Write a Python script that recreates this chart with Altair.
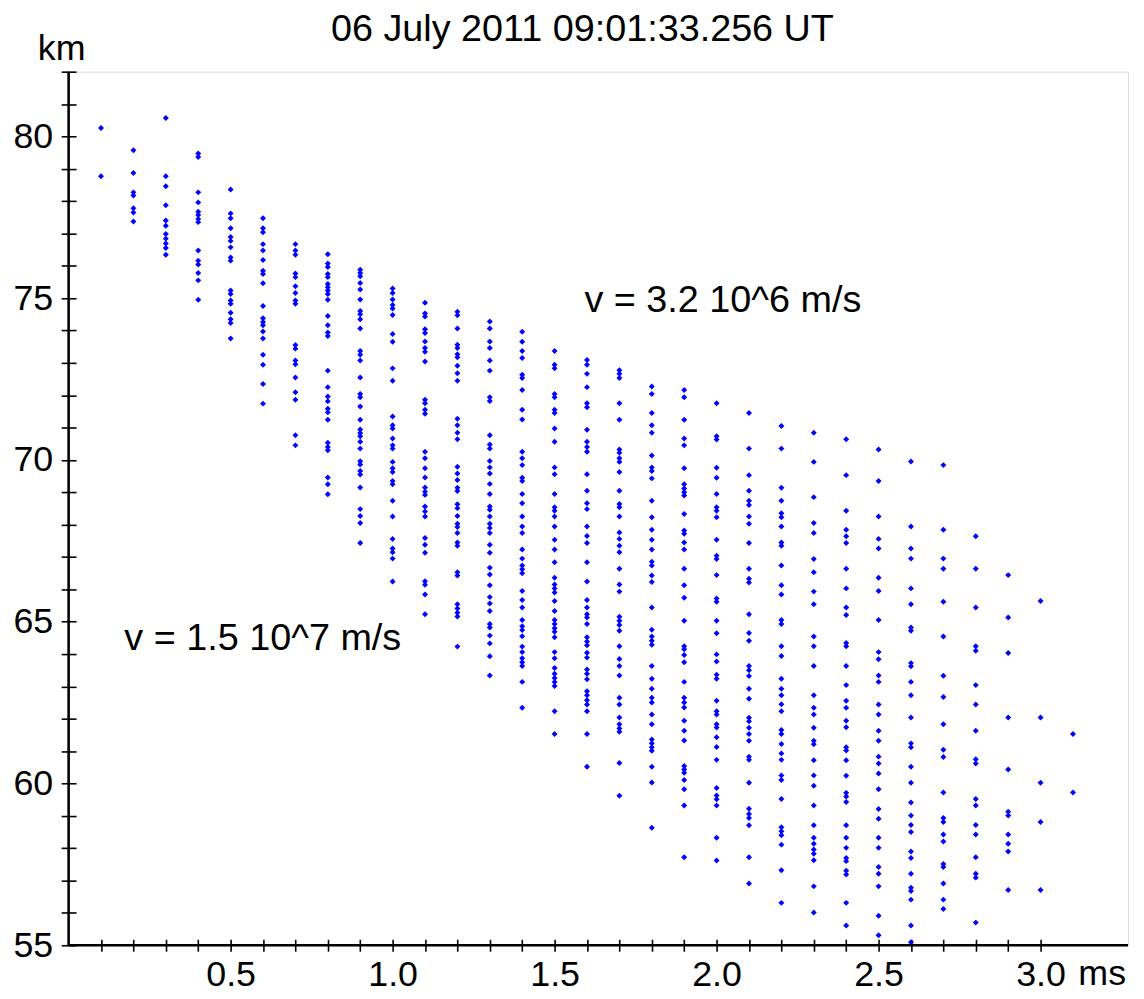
import altair as alt
import pandas as pd

# ---- data (time in ms, height in km) ----
times = [0.1, 0.2, 0.3, 0.4, 0.5, 0.6, 0.7, 0.8, 0.9, 1.0, 1.1, 1.2, 1.3, 1.4, 1.5, 1.6,
         1.7, 1.8, 1.9, 2.0, 2.1, 2.2, 2.3, 2.4, 2.5, 2.6, 2.7, 2.8, 2.9, 3.0, 3.1]

h01 = [80.26, 78.77]
h02 = [79.57, 78.87, 78.27, 78.17, 77.78, 77.65, 77.37]
h03 = [80.57, 78.77, 78.46, 77.87, 77.40, 77.24, 76.98, 76.84, 76.69, 76.55, 76.34]
h04 = [79.47, 79.36, 78.27, 77.96, 77.67, 77.57, 77.45, 77.35, 76.47, 76.16, 76.04, 75.78, 75.55, 74.95]
h05 = [78.36, 77.62, 77.47, 77.16, 76.89, 76.77, 76.57, 76.26, 76.16, 75.24, 75.13, 74.93, 74.83,
       74.55, 74.35, 74.23, 73.75]
h06 = [77.47, 77.16, 77.04, 76.67, 76.47, 76.18, 75.85, 75.75, 75.46, 74.76, 74.38, 74.26, 74.16,
       73.97, 73.75, 73.25, 72.94, 72.35, 71.74]
h07 = [76.67, 76.47, 76.34, 75.76, 75.65, 75.37, 75.16, 74.93, 74.83, 73.55, 73.44, 73.07, 72.96,
       72.55, 72.09, 71.86, 70.76, 70.45]
h08 = [76.36, 76.07, 75.96, 75.75, 75.65, 75.44, 75.34, 75.24, 75.13, 74.95, 74.45, 74.16, 73.94,
       73.83, 72.76, 72.25, 71.96, 71.81, 71.58, 71.47, 71.24, 70.53, 70.40, 70.30, 69.46, 69.25, 68.94]
h09 = [75.88, 75.78, 75.68, 75.47, 75.27, 74.96, 74.60, 74.50, 74.35, 74.06, 73.37, 73.25, 73.07,
       72.55, 72.04, 71.94, 71.65, 71.24, 70.94, 70.83, 70.73, 70.56, 70.35, 69.96, 69.86, 69.66,
       69.55, 69.15, 68.48, 68.27, 68.05, 67.43]
h10 = [75.30, 75.16, 74.96, 74.79, 74.68, 74.48, 73.89, 73.65, 72.83, 72.45, 71.34, 71.07, 70.97,
       70.66, 70.45, 70.35, 69.94, 69.74, 69.63, 69.35, 69.25, 68.74, 68.25, 67.56, 67.26, 67.15,
       66.95, 66.24]
h11 = [74.86, 74.53, 74.43, 74.04, 73.92, 73.66, 73.46, 73.34, 73.04, 71.86, 71.75, 71.55, 71.43,
       70.25, 70.05, 69.74, 69.46, 69.15, 69.02, 68.92, 68.56, 68.41, 68.25, 67.59, 67.38, 67.13,
       66.25, 66.14, 65.84, 65.23]
h12 = [74.58, 74.47, 74.06, 73.56, 73.46, 73.27, 73.17, 72.91, 72.68, 72.45, 71.27, 71.07, 70.84,
       70.64, 69.79, 69.58, 69.38, 69.14, 69.04, 68.63, 68.51, 68.27, 68.03, 67.93, 67.74, 67.45,
       67.35, 66.53, 66.43, 65.54, 65.41, 65.28, 65.16, 64.23]
h13 = [74.28, 74.06, 73.66, 73.46, 73.07, 72.76, 71.94, 71.82, 70.76, 70.48, 70.35, 69.97, 69.77,
       69.58, 69.26, 68.95, 68.56, 68.46, 68.25, 68.03, 67.90, 67.74, 67.38, 67.13, 66.67, 66.46,
       66.13, 65.76, 65.56, 65.33, 64.93, 64.82, 64.57, 64.33, 63.93, 63.34]
h14 = [73.96, 73.65, 73.37, 73.15, 72.63, 72.53, 72.16, 71.55, 71.25, 70.25, 70.05, 69.84, 69.45,
       69.35, 68.95, 68.66, 68.25, 67.94, 67.74, 67.23, 66.95, 66.74, 66.62, 66.50, 65.95, 65.67,
       65.44, 65.05, 64.86, 64.74, 64.55, 64.23, 64.06, 63.87, 63.75, 63.63, 63.14, 62.34]
h15 = [73.37, 72.94, 72.83, 72.04, 71.94, 71.55, 71.45, 70.97, 70.56, 69.77, 69.56, 68.95, 68.54,
       68.43, 68.25, 67.94, 67.53, 67.23, 66.84, 66.36, 66.15, 66.03, 65.90, 65.64, 65.33, 65.05,
       64.93, 64.80, 64.69, 64.52, 64.06, 63.87, 63.57, 63.39, 63.26, 63.14, 63.01, 62.23, 61.53]
h16 = [73.09, 72.94, 72.66, 72.25, 71.75, 71.63, 70.93, 70.56, 70.40, 70.25, 69.56, 69.05, 68.66,
       68.48, 67.94, 67.65, 67.43, 66.84, 66.24, 65.67, 65.44, 65.23, 65.13, 64.93, 64.52, 64.39,
       64.27, 64.04, 63.89, 63.52, 63.39, 63.22, 62.85, 62.73, 62.57, 62.44, 62.23, 61.53, 60.52]
h17 = [72.77, 72.66, 72.53, 71.75, 71.24, 70.32, 70.22, 70.05, 69.94, 69.63, 69.05, 68.64, 68.54,
       68.25, 67.76, 67.56, 67.35, 67.15, 66.64, 66.15, 65.93, 65.15, 65.03, 64.90, 64.72, 64.24,
       63.85, 63.63, 63.34, 62.65, 62.44, 62.04, 61.83, 61.70, 61.60, 60.63, 59.62]
h18 = [72.27, 72.04, 71.45, 71.07, 70.84, 70.14, 69.77, 69.66, 69.43, 68.74, 68.23, 67.84, 67.53,
       67.23, 66.85, 66.74, 66.43, 66.23, 65.44, 64.75, 64.54, 64.41, 64.29, 63.63, 63.24, 62.93,
       62.65, 62.50, 62.13, 61.83, 61.36, 61.24, 61.12, 61.01, 60.52, 60.03, 58.63]
h19 = [72.16, 71.94, 71.24, 70.66, 70.45, 69.74, 69.25, 69.12, 69.00, 68.90, 68.33, 67.82, 67.72,
       67.45, 67.23, 66.64, 66.13, 65.74, 65.03, 64.24, 64.15, 63.97, 63.75, 63.14, 62.65, 62.50,
       62.35, 61.94, 61.63, 61.33, 60.54, 60.43, 60.33, 60.11, 59.82, 59.32, 57.72]
h20 = [71.75, 70.73, 70.63, 69.76, 69.45, 68.95, 68.54, 68.43, 68.23, 67.53, 67.04, 66.94, 66.44,
       65.72, 65.62, 65.03, 64.64, 63.99, 63.77, 63.36, 63.24, 62.56, 62.23, 62.13, 61.83, 61.73,
       61.43, 61.13, 60.73, 59.86, 59.63, 59.51, 59.32, 58.32, 57.62]
h21 = [71.45, 70.35, 69.53, 69.05, 68.74, 68.61, 68.25, 68.03, 67.43, 66.64, 66.33, 66.21, 65.23,
       64.65, 64.41, 63.63, 63.50, 63.32, 62.93, 62.62, 62.03, 61.92, 61.72, 61.53, 61.32, 60.83,
       60.73, 60.02, 59.22, 59.06, 58.93, 58.71, 57.72, 56.91]
h22 = [71.05, 70.35, 69.14, 68.74, 68.35, 68.23, 67.94, 67.45, 67.35, 66.74, 66.13, 65.84, 65.05,
       64.93, 64.24, 63.94, 63.24, 62.93, 62.73, 62.45, 62.23, 61.65, 61.53, 61.22, 60.93, 60.73,
       60.25, 60.11, 59.52, 58.65, 58.52, 58.40, 58.11, 57.32, 56.31]
h23 = [70.84, 69.94, 68.85, 68.05, 67.74, 66.94, 66.53, 65.93, 65.54, 64.54, 64.24, 63.63, 62.73,
       62.34, 62.13, 61.72, 61.32, 61.21, 60.72, 60.25, 59.93, 59.32, 58.71, 58.32, 58.14, 57.96,
       57.83, 57.63, 56.82, 56.01]
h24 = [70.64, 69.53, 68.43, 67.84, 67.64, 67.43, 66.64, 66.03, 65.44, 65.21, 64.34, 64.24, 63.63,
       63.04, 62.56, 62.34, 61.94, 61.74, 61.12, 61.02, 60.72, 60.24, 59.71, 59.60, 59.43, 58.71,
       58.32, 58.01, 57.70, 57.60, 57.30, 57.19, 56.31, 55.61]
h25 = [70.32, 69.35, 68.25, 67.56, 67.26, 66.36, 65.95, 65.05, 64.06, 63.84, 63.34, 63.14, 62.44,
       62.13, 61.63, 61.32, 60.83, 60.62, 60.31, 59.82, 59.21, 58.91, 58.32, 58.01, 57.42, 57.21,
       56.82, 55.91, 55.31]
h26 = [69.95, 67.94, 67.26, 66.95, 66.03, 65.54, 64.82, 64.72, 63.72, 63.62, 63.14, 62.73, 62.04,
       61.24, 61.12, 60.52, 60.02, 59.41, 59.01, 58.72, 58.50, 57.90, 57.70, 57.21, 56.78, 56.68,
       56.41, 55.61, 55.09]
h27 = [69.84, 67.84, 66.95, 66.64, 65.62, 64.54, 63.33, 62.67, 61.83, 61.04, 60.82, 59.72, 58.93,
       58.81, 58.42, 58.21, 57.51, 57.42, 56.91, 56.41, 56.12]
h28 = [67.64, 66.64, 65.44, 64.24, 64.10, 63.04, 62.44, 61.63, 60.75, 60.62, 59.52, 59.32, 58.72,
       58.42, 57.72, 57.21, 57.09, 55.70]
h29 = [66.44, 65.13, 64.03, 62.04, 60.43, 59.13, 59.01, 58.42, 58.14, 57.90, 56.71]
h30 = [65.64, 62.04, 60.02, 58.81, 56.71]
h31 = [61.53, 59.72]

columns = [h01, h02, h03, h04, h05, h06, h07, h08, h09, h10, h11, h12, h13, h14, h15, h16,
           h17, h18, h19, h20, h21, h22, h23, h24, h25, h26, h27, h28, h29, h30, h31]

# axis ticks and labelled ticks
x_ticks = [0.1, 0.2, 0.3, 0.4, 0.5, 0.6, 0.7, 0.8, 0.9, 1.0, 1.1, 1.2, 1.3, 1.4, 1.5,
           1.6, 1.7, 1.8, 1.9, 2.0, 2.1, 2.2, 2.3, 2.4, 2.5, 2.6, 2.7, 2.8, 2.9, 3.0]
x_labels = [0.5, 1.0, 1.5, 2.0, 2.5, 3.0]
y_ticks = [55, 56, 57, 58, 59, 60, 61, 62, 63, 64, 65, 66, 67, 68, 69, 70,
           71, 72, 73, 74, 75, 76, 77, 78, 79, 80, 81, 82]
y_labels = [55, 60, 65, 70, 75, 80]

title_text = "06 July 2011 09:01:33.256 UT"
note_t = [1.592, 0.172]
note_h = [74.9, 64.46]
note_label = ["v = 3.2 10^6 m/s", "v = 1.5 10^7 m/s"]

notes = pd.DataFrame({"t": note_t, "h": note_h, "label": note_label})
rows = [{"t": t, "h": h} for t, col in zip(times, columns) for h in col]
df = pd.DataFrame(rows)

W, H = 1066, 879
FONT = "Liberation Sans"
FS_TICK = 36
FS_TEXT = 38
X_MAX = 3.27

xscale = alt.Scale(domain=[0, X_MAX], nice=False, zero=False)
yscale = alt.Scale(domain=[55, 82], nice=False, zero=False)

# axes that carry only the ticks (crossing the axis line)
x_tick_axis = alt.Axis(
    values=x_ticks, title=None, grid=False, domain=False, labels=False,
    orient="bottom", offset=-6, tickSize=12, tickWidth=1.6, tickColor="black",
)
y_tick_axis = alt.Axis(
    values=y_ticks, title=None, grid=False, domain=False, labels=False,
    orient="left", offset=-7.5, tickSize=15, tickWidth=1.6, tickColor="black",
)
# axes that carry only the labels
x_label_axis = alt.Axis(
    values=x_labels, title=None, grid=False, domain=False, ticks=False, tickSize=0,
    orient="bottom", labelFont=FONT, labelFontSize=FS_TICK, labelColor="black",
    labelPadding=12, labelFlush=False, labelOverlap=False, format=".1f",
)
y_label_axis = alt.Axis(
    values=y_labels, title=None, grid=False, domain=False, ticks=False, tickSize=0,
    orient="left", labelFont=FONT, labelFontSize=FS_TICK, labelColor="black",
    labelPadding=16, labelFlush=False, labelOverlap=False, format="d",
)

points = alt.Chart(df).mark_point(
    shape="diamond", filled=True, size=36, color="#0000ff", opacity=1
).encode(
    x=alt.X("t:Q", scale=xscale, axis=x_tick_axis),
    y=alt.Y("h:Q", scale=yscale, axis=y_tick_axis),
)

note_text = alt.Chart(notes).mark_text(
    font=FONT, fontSize=FS_TEXT, align="left", baseline="middle", color="black"
).encode(
    x=alt.X("t:Q", scale=xscale, axis=x_label_axis),
    y=alt.Y("h:Q", scale=yscale, axis=y_label_axis),
    text="label:N",
)

yline = alt.Chart().mark_rule(color="black", strokeWidth=2.6).encode(
    x=alt.XDatum(0, axis=None), y=alt.YDatum(55, axis=None), y2=alt.Y2Datum(82)
)
xline = alt.Chart().mark_rule(color="black", strokeWidth=2.6).encode(
    y=alt.YDatum(55, axis=None), x=alt.XDatum(0, axis=None), x2=alt.X2Datum(X_MAX)
)

ms_text = alt.Chart().mark_text(
    font=FONT, fontSize=FS_TICK, align="left", baseline="top", color="black", dx=38, dy=12
).encode(x=alt.XDatum(3.0, axis=None), y=alt.YDatum(55, axis=None), text=alt.value("ms"))

km_text = alt.Chart().mark_text(
    font=FONT, fontSize=FS_TICK, align="center", baseline="alphabetic", color="black"
).encode(x=alt.value(-7), y=alt.value(-12), text=alt.value("km"))

title_mark = alt.Chart().mark_text(
    font=FONT, fontSize=FS_TEXT, align="center", baseline="alphabetic", color="black"
).encode(x=alt.value(517), y=alt.value(-31), text=alt.value(title_text))

chart = alt.layer(
    points, note_text, yline, xline, ms_text, km_text, title_mark
).resolve_axis(x="independent", y="independent").properties(
    width=W, height=H,
    autosize=alt.AutoSizeParams(type="none"),
    padding={"left": 61, "top": 61, "right": 8, "bottom": 50},
).configure_view(stroke=None).configure(background="white")

chart.save("out.html", embed_options={"renderer": "svg", "actions": False})
